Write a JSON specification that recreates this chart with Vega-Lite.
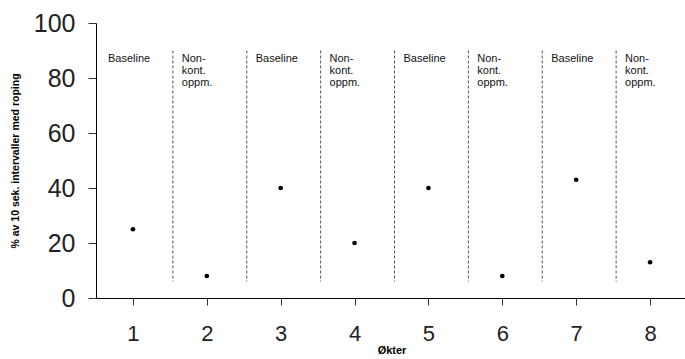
{
  "$schema": "https://vega.github.io/schema/vega-lite/v6.json",
  "width": 591,
  "height": 275,
  "autosize": "none",
  "padding": {"left": 96, "top": 23, "right": 0, "bottom": 61},
  "background": "white",
  "config": {
    "view": {"stroke": null},
    "font": "Liberation Sans",
    "axis": {"grid": false, "domainColor": "#000", "tickColor": "#333", "labelColor": "#222", "titleColor": "#000", "labelFont": "Liberation Sans", "titleFont": "Liberation Sans"}
  },
  "datasets": {
    "points": [
      {"okt": 1, "pct": 25, "fase": "Baseline", "label": ["Baseline"]},
      {"okt": 2, "pct": 8, "fase": "Non-kont. oppm.", "label": ["Non-", "kont.", "oppm."]},
      {"okt": 3, "pct": 40, "fase": "Baseline", "label": ["Baseline"]},
      {"okt": 4, "pct": 20, "fase": "Non-kont. oppm.", "label": ["Non-", "kont.", "oppm."]},
      {"okt": 5, "pct": 40, "fase": "Baseline", "label": ["Baseline"]},
      {"okt": 6, "pct": 8, "fase": "Non-kont. oppm.", "label": ["Non-", "kont.", "oppm."]},
      {"okt": 7, "pct": 43, "fase": "Baseline", "label": ["Baseline"]},
      {"okt": 8, "pct": 13, "fase": "Non-kont. oppm.", "label": ["Non-", "kont.", "oppm."]}
    ],
    "skille": [
      {"grense": 1.5}, {"grense": 2.5}, {"grense": 3.5}, {"grense": 4.5}, {"grense": 5.5}, {"grense": 6.5}, {"grense": 7.5}, {"grense": 8.5}
    ]
  },
  "layer": [
    {
      "data": {"name": "points"},
      "mark": {"type": "point", "filled": true, "size": 22, "color": "#000", "opacity": 1},
      "encoding": {
        "x": {
          "field": "okt", "type": "quantitative",
          "scale": {"domain": [0.5, 8.5], "nice": false},
          "axis": {
            "values": [1, 2, 3, 4, 5, 6, 7, 8],
            "format": "d",
            "labelOverlap": false,
            "labelFontSize": 22, "labelPadding": 18, "tickSize": 7, "labelFlush": false,
            "title": "Økter", "titleFontSize": 11, "titleFontWeight": "bold", "titlePadding": 0
          }
        },
        "y": {
          "field": "pct", "type": "quantitative",
          "scale": {"domain": [0, 100], "nice": false},
          "axis": {
            "values": [0, 20, 40, 60, 80, 100],
            "labelOverlap": false,
            "labelFontSize": 25, "labelPadding": 13, "tickSize": 8,
            "title": "% av 10 sek. intervaller med roping", "titleFontSize": 10.5, "titleFontWeight": "bold", "titlePadding": 13
          }
        }
      }
    },
    {
      "data": {"name": "skille"},
      "mark": {"type": "rule", "color": "#333", "strokeWidth": 1},
      "encoding": {
        "x": {"field": "grense", "type": "quantitative"},
        "y": {"datum": 0},
        "y2": {"datum": 0},
        "y2Offset": {"value": 7}
      }
    },
    {
      "data": {"name": "skille"},
      "transform": [{"filter": "datum.grense < 8"}],
      "mark": {"type": "rule", "strokeDash": [3, 2], "color": "#555", "strokeWidth": 1, "xOffset": 3},
      "encoding": {
        "x": {"field": "grense", "type": "quantitative"},
        "y": {"datum": 90},
        "y2": {"datum": 6}
      }
    },
    {
      "data": {"name": "points"},
      "mark": {"type": "text", "align": "left", "baseline": "top", "fontSize": 11, "lineHeight": 12, "dx": -25, "dy": 2, "color": "#111"},
      "encoding": {
        "x": {"field": "okt", "type": "quantitative"},
        "y": {"datum": 90},
        "text": {"field": "label"}
      }
    }
  ]
}
